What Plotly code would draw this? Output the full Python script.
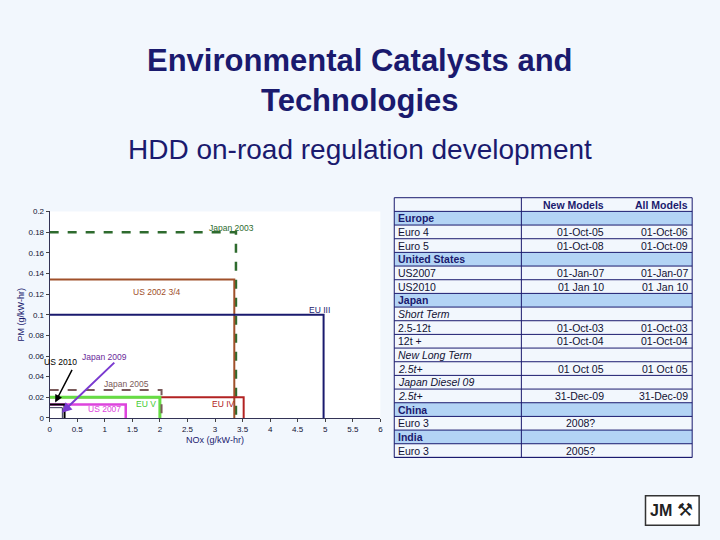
import plotly.graph_objects as go

# ---- chart data ----
series_names = ["Japan 2003", "US 2002 3/4", "EU III", "EU IV", "EU V", "Japan 2005", "US 2007", "US 2010", "Japan 2009"]
series_nox = [3.38, 3.35, 4.97, 3.52, 2.0, 2.03, 1.38, 0.27, 0.23]
series_pm = [0.18, 0.134, 0.1, 0.02, 0.02, 0.027, 0.013, 0.013, 0.01]
series_colors = ["#2e6b2e", "#a0502a", "#1a1a6e", "#b22222", "#66dd44", "#7a5a5a", "#dd44dd", "#000000", "#333355"]
series_dash = ["dash", "solid", "solid", "solid", "solid", "dash", "solid", "solid", "solid"]
series_width = [2.5, 2, 2, 2, 3, 2, 2.5, 2, 1]
label_x = [3.3, 1.95, 4.9, 3.15, 1.75, 1.4, 1.0, 0.2, 1.0]
label_y = [0.184, 0.122, 0.105, 0.014, 0.014, 0.033, 0.009, 0.054, 0.059]
label_colors = ["#2e6b2e", "#a0502a", "#1a1a6e", "#b22222", "#44cc33", "#7a5a5a", "#dd44dd", "#000000", "#6a2a9a"]

x_ticks = [0, 0.5, 1, 1.5, 2, 2.5, 3, 3.5, 4, 4.5, 5, 5.5, 6]
y_ticks = [0, 0.02, 0.04, 0.06, 0.08, 0.1, 0.12, 0.14, 0.16, 0.18, 0.2]

# ---- table data ----
table_col1 = ["", "Europe", "Euro 4", "Euro 5", "United States", "US2007", "US2010", "Japan", "Short Term",
              "2.5-12t", "12t +", "New Long Term", "2.5t+", "Japan Diesel 09", "2.5t+", "China", "Euro 3", "India", "Euro 3"]
table_col2 = ["New Models", "", "01-Oct-05", "01-Oct-08", "", "01-Jan-07", "01 Jan 10", "", "",
              "01-Oct-03", "01-Oct-04", "", "01 Oct 05", "", "31-Dec-09", "", "2008?", "", "2005?"]
table_col3 = ["All Models", "", "01-Oct-06", "01-Oct-09", "", "01-Jan-07", "01 Jan 10", "", "",
              "01-Oct-03", "01-Oct-04", "", "01 Oct 05", "", "31-Dec-09", "", "", "", ""]
section_rows = [1, 4, 7, 15, 17]
italic_rows = [8, 11, 12, 13, 14]
centered_rows = [16, 18]

NAVY = "#1a1a6e"
W, H = 720, 540
def px(x): return x / W
def py(y): return 1 - y / H

fig = go.Figure()
fig.update_layout(
    width=W, height=H, margin=dict(l=0, r=0, t=0, b=0),
    paper_bgcolor="#f2f7fd", plot_bgcolor="white",
    font=dict(family="Liberation Sans", color=NAVY),
    xaxis=dict(domain=[px(48), px(381)], range=[0, 6], tickvals=x_ticks, ticktext=[str(v) for v in x_ticks],
               showgrid=False, zeroline=False, showline=True, linecolor="#333355", ticks="outside", ticklen=3,
               tickfont=dict(size=8, color="#111133"), title=dict(text="NOx (g/kW-hr)", font=dict(size=9), standoff=4)),
    yaxis=dict(domain=[py(421), py(211)], range=[0, 0.2], tickvals=y_ticks,
               ticktext=["0"] + ["%g" % v for v in y_ticks[1:]],
               showgrid=False, zeroline=False, showline=True, linecolor="#333355", ticks="outside", ticklen=3,
               tickfont=dict(size=8, color="#111133"), title=dict(text="PM (g/kW-hr)", font=dict(size=9), standoff=2)),
)

for i, n in enumerate(series_names):
    fig.add_trace(go.Scatter(x=[0, series_nox[i], series_nox[i]], y=[series_pm[i], series_pm[i], 0],
                             mode="lines", line=dict(color=series_colors[i], dash=series_dash[i], width=series_width[i]),
                             showlegend=False, hoverinfo="skip"))
    fig.add_annotation(x=label_x[i], y=label_y[i], text=n, showarrow=False, xref="x", yref="y",
                       yanchor="middle", font=dict(size=8.5, color=label_colors[i]))

fig.add_annotation(x=0.1, y=0.015, ax=0.42, ay=0.048, xref="x", yref="y", axref="x", ayref="y",
                   showarrow=True, arrowhead=2, arrowwidth=1.5, arrowcolor="#000000", text="")
fig.add_annotation(x=0.22, y=0.005, ax=1.2, ay=0.055, xref="x", yref="y", axref="x", ayref="y",
                   showarrow=True, arrowhead=2, arrowwidth=2, arrowcolor="#7a3ad0", text="")

tx0, tx1, tcol = 395, 695, 523
ty0, rh = 197, 13.9
n = len(table_col1)
FS = 10.5
for r in range(n):
    y0 = ty0 + r * rh
    y1 = y0 + rh
    if r in section_rows:
        fig.add_shape(type="rect", xref="paper", yref="paper", x0=px(tx0), x1=px(tx1), y0=py(y1), y1=py(y0),
                      fillcolor="#b3d4f5", line=dict(width=0), layer="below")
    fig.add_shape(type="line", xref="paper", yref="paper", x0=px(tx0), x1=px(tx1), y0=py(y1), y1=py(y1),
                  line=dict(color=NAVY, width=1))
    yc = py((y0 + y1) / 2)
    bold = r in section_rows or r == 0
    t1 = table_col1[r]
    if r in italic_rows:
        t1 = "<i>" + t1 + "</i>"
    elif bold and t1:
        t1 = "<b>" + t1 + "</b>"
    if table_col1[r]:
        fig.add_annotation(x=px(397), y=yc, text=t1, xanchor="left", yanchor="middle", showarrow=False,
                           xref="paper", yref="paper", font=dict(size=FS, color=NAVY if bold else "#111133"))
    if table_col2[r]:
        t2 = "<b>" + table_col2[r] + "</b>" if r == 0 else table_col2[r]
        if r in centered_rows:
            fig.add_annotation(x=px(583), y=yc, text=t2, xanchor="center", yanchor="middle", showarrow=False,
                               xref="paper", yref="paper", font=dict(size=FS, color="#111133"))
        else:
            fig.add_annotation(x=px(608), y=yc, text=t2, xanchor="right", yanchor="middle",
                               showarrow=False, xref="paper", yref="paper",
                               font=dict(size=FS, color=NAVY if r == 0 else "#111133"))
    if table_col3[r]:
        t3 = "<b>" + table_col3[r] + "</b>" if r == 0 else table_col3[r]
        fig.add_annotation(x=px(693), y=yc, text=t3, xanchor="right", yanchor="middle",
                           showarrow=False, xref="paper", yref="paper",
                           font=dict(size=FS, color=NAVY if r == 0 else "#111133"))
tyend = ty0 + n * rh
fig.add_shape(type="rect", xref="paper", yref="paper", x0=px(tx0), x1=px(tx1), y0=py(tyend), y1=py(ty0),
              line=dict(color=NAVY, width=1))
fig.add_shape(type="line", xref="paper", yref="paper", x0=px(tcol), x1=px(tcol), y0=py(tyend), y1=py(ty0),
              line=dict(color=NAVY, width=1))
# logo
fig.add_shape(type="rect", xref="paper", yref="paper", x0=px(648), x1=px(702), y0=py(530), y1=py(500),
              line=dict(color="#333333", width=1.5), fillcolor="white")
fig.add_annotation(x=px(651), y=py(515), text="<b>JM</b>", showarrow=False, xref="paper", yref="paper",
                   xanchor="left", yanchor="middle", font=dict(size=16, color="#222222"))
fig.add_annotation(x=px(698), y=py(515), text="⚒", showarrow=False, xref="paper", yref="paper",
                   xanchor="right", yanchor="middle", font=dict(size=18, color="#222222"))

# titles
fig.add_annotation(x=0.5, y=py(78), text="<b>Environmental Catalysts and<br>Technologies</b>", showarrow=False,
                   xref="paper", yref="paper", yanchor="middle", font=dict(size=31, color=NAVY))
fig.add_annotation(x=0.5, y=py(148), text="HDD on-road regulation development", showarrow=False,
                   xref="paper", yref="paper", yanchor="middle", font=dict(size=28, color=NAVY))

fig.write_html("out.html", config={"displayModeBar": False},
               post_script="document.body.style.margin='0';")
